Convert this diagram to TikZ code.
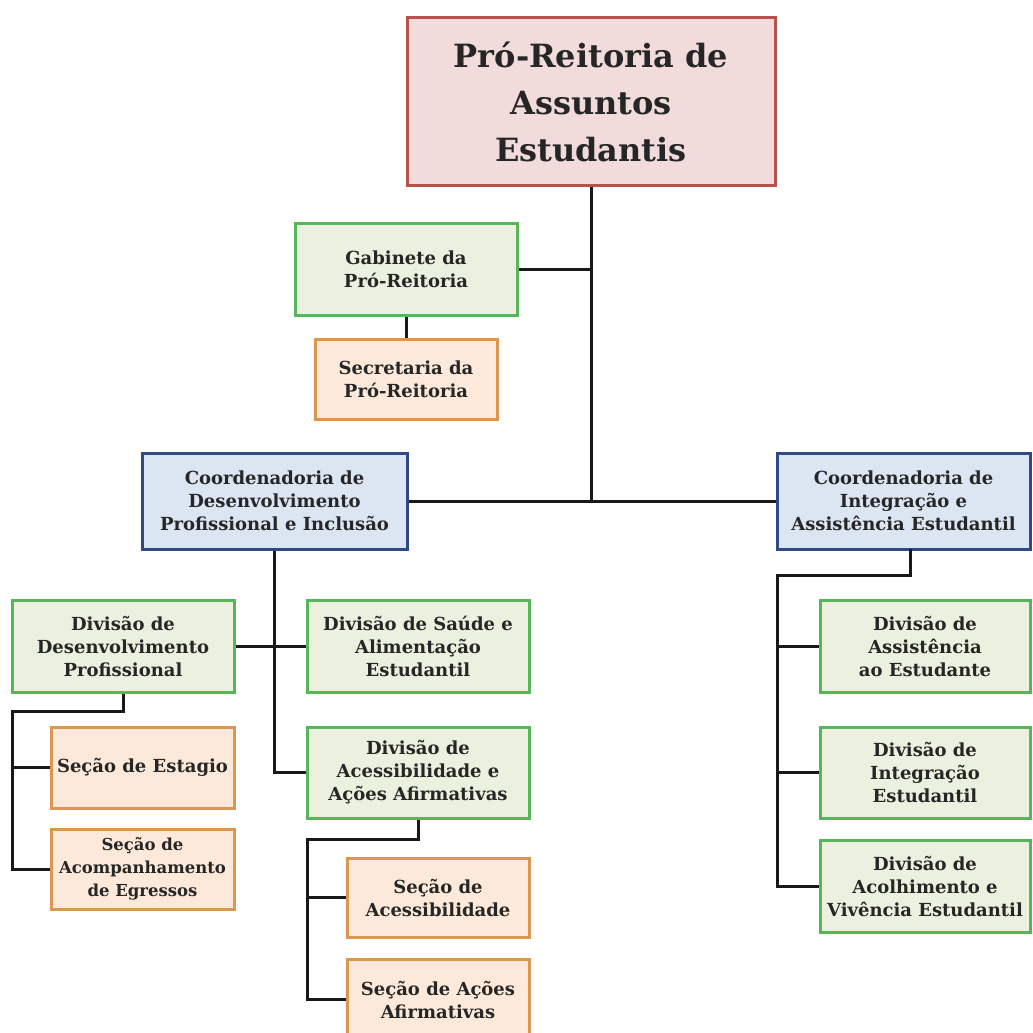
\documentclass[tikz,border=0pt]{standalone}
\usepackage{fontspec}
\setmainfont{DejaVu Serif}
\begin{document}
\definecolor{pinkfill}{HTML}{F2DCDB}
\definecolor{pinkdraw}{HTML}{B8504D}
\definecolor{greenfill}{HTML}{EBF1DE}
\definecolor{greendraw}{HTML}{58B55A}
\definecolor{orangefill}{HTML}{FDE9D9}
\definecolor{orangedraw}{HTML}{D9974F}
\definecolor{bluefill}{HTML}{DCE6F2}
\definecolor{bluedraw}{HTML}{2F4A86}
\definecolor{txt}{HTML}{262626}
\begin{tikzpicture}[x=1pt,y=-1pt,
  box/.style={rectangle, line width=3pt, inner sep=0pt, align=center,
    text=txt, font=\fontsize{18}{23}\selectfont\bfseries},
  pinkbox/.style={box, fill=pinkfill, draw=pinkdraw},
  greenbox/.style={box, fill=greenfill, draw=greendraw},
  orangebox/.style={box, fill=orangefill, draw=orangedraw},
  bluebox/.style={box, fill=bluefill, draw=bluedraw},
  conn/.style={line width=3pt, draw=black!90}]
\clip (0,0) rectangle (1033,1033);
\fill[white] (0,0) rectangle (1033,1033);

% nodes
\node[pinkbox, minimum width=368pt, minimum height=167pt,
  font=\fontsize{32}{47}\selectfont\bfseries] (top) at (591,101.5)
  {Pró-Reitoria de\\Assuntos\\Estudantis};
\node[greenbox, minimum width=222pt, minimum height=92pt] (gab) at (406,269)
  {Gabinete da\\Pró-Reitoria};
\node[orangebox, minimum width=182pt, minimum height=80pt] (sec) at (406,379)
  {Secretaria da\\Pró-Reitoria};
\node[bluebox, minimum width=265pt, minimum height=96pt] (dpi) at (274.5,501)
  {Coordenadoria de\\Desenvolvimento\\Profissional e Inclusão};
\node[bluebox, minimum width=253pt, minimum height=96pt] (iae) at (903.5,501)
  {Coordenadoria de\\Integração e\\Assistência Estudantil};
\node[greenbox, minimum width=222pt, minimum height=92pt] (ddp) at (123,646)
  {Divisão de\\Desenvolvimento\\Profissional};
\node[greenbox, minimum width=222pt, minimum height=92pt] (dsa) at (418,646)
  {Divisão de Saúde e\\Alimentação\\Estudantil};
\node[orangebox, minimum width=183pt, minimum height=81pt] (est) at (142.5,767.5)
  {Seção de Estagio};
\node[orangebox, minimum width=183pt, minimum height=80pt,
  font=\fontsize{16.5}{23}\selectfont\bfseries] (aco) at (142.5,869)
  {Seção de\\Acompanhamento\\de Egressos};
\node[greenbox, minimum width=222pt, minimum height=91pt] (dac) at (418,772.5)
  {Divisão de\\Acessibilidade e\\Ações Afirmativas};
\node[orangebox, minimum width=182pt, minimum height=79pt] (sac) at (438,897.5)
  {Seção de\\Acessibilidade};
\node[orangebox, minimum width=182pt, minimum height=81pt] (saa) at (438,999.5)
  {Seção de Ações\\Afirmativas};
\node[greenbox, minimum width=210pt, minimum height=92pt] (das) at (925,646)
  {Divisão de\\Assistência\\ao Estudante};
\node[greenbox, minimum width=210pt, minimum height=91pt] (din) at (925,772.5)
  {Divisão de\\Integração\\Estudantil};
\node[greenbox, minimum width=210pt, minimum height=92pt] (dav) at (925,886)
  {Divisão de\\Acolhimento e\\Vivência Estudantil};

% junction coordinates
\coordinate (j1) at (12,711);
\coordinate (j2) at (307,839);
\coordinate (j3) at (777,575);
\coordinate (j4) at (910,549);

% connectors
\draw[conn] (top.south) -- (top.south |- dpi.east);
\draw[conn] (gab.east) -- (gab.east -| top.south);
\draw[conn] (gab.south) -- (sec.north);
\draw[conn] (dpi.east) -- (iae.west);
\draw[conn] (dpi.south) |- (dac.west);
\draw[conn] (ddp.east) -- (dsa.west);
\draw[conn] (ddp.south) |- (j1) |- (aco.west);
\draw[conn] (j1 |- est.west) -- (est.west);
\draw[conn] (dac.south) |- (j2) |- (saa.west);
\draw[conn] (j2 |- sac.west) -- (sac.west);
\draw[conn] (j4) |- (j3) |- (dav.west);
\draw[conn] (j3 |- das.west) -- (das.west);
\draw[conn] (j3 |- din.west) -- (din.west);
\end{tikzpicture}
\end{document}
